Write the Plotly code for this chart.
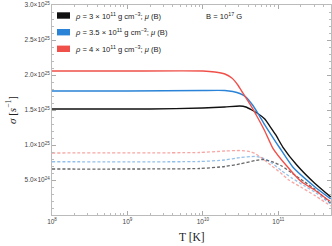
import numpy as np
import plotly.graph_objects as go

# ---- data (T in log10 K, sigma in units of 1e25 s^-1) ----
logT_r = [8.0, 9.0, 10.0, 10.159, 10.291, 10.384, 10.464, 10.53, 10.623, 10.715, 10.821, 10.927, 11.113, 11.311, 11.483, 11.695]
sig_r  = [2.057, 2.057, 2.057, 2.043, 2.014, 1.957, 1.857, 1.743, 1.586, 1.414, 1.2, 0.957, 0.70, 0.471, 0.357, 0.186]

logT_b = [8.0, 9.0, 10.0, 10.291, 10.397, 10.49, 10.57, 10.649, 10.728, 10.821, 10.914, 11.02, 11.192, 11.483, 11.695]
sig_b  = [1.771, 1.771, 1.779, 1.779, 1.764, 1.736, 1.686, 1.586, 1.457, 1.286, 1.129, 0.957, 0.686, 0.404, 0.229]

logT_k = [8.0, 9.298, 10.0, 10.291, 10.49, 10.57, 10.649, 10.728, 10.821, 10.887, 10.967, 11.06, 11.245, 11.483, 11.695]
sig_k  = [1.514, 1.514, 1.529, 1.543, 1.557, 1.543, 1.50, 1.45, 1.371, 1.271, 1.143, 0.971, 0.714, 0.453, 0.257]

logT_rd = [8.0, 9.96, 10.291, 10.49, 10.623, 10.689, 10.781, 10.9, 11.033, 11.139, 11.298, 11.483, 11.695]
sig_rd  = [0.886, 0.893, 0.914, 0.921, 0.907, 0.881, 0.814, 0.714, 0.60, 0.50, 0.40, 0.28, 0.129]

logT_bd = [8.0, 9.96, 10.291, 10.49, 10.689, 10.795, 10.914, 11.046, 11.179, 11.351, 11.483, 11.695]
sig_bd  = [0.761, 0.764, 0.786, 0.821, 0.836, 0.814, 0.743, 0.629, 0.529, 0.414, 0.329, 0.157]

logT_kd = [8.0, 9.96, 10.291, 10.49, 10.689, 10.795, 10.914, 11.046, 11.179, 11.351, 11.483, 11.695]
sig_kd  = [0.657, 0.664, 0.693, 0.729, 0.776, 0.793, 0.764, 0.70, 0.60, 0.471, 0.371, 0.171]

ytick_vals = [0.5, 1.0, 1.5, 2.0, 2.5, 3.0]
ytick_text = ["5.0×10<sup>24</sup>", "1.0×10<sup>25</sup>", "1.5×10<sup>25</sup>",
              "2.0×10<sup>25</sup>", "2.5×10<sup>25</sup>", "3.0×10<sup>25</sup>"]
xtick_exp = [8, 9, 10, 11]

legend_labels = ["<i>ρ</i> = 3 × 10<sup>11</sup> g cm<sup>−3</sup>; <i>μ</i> (B)",
                 "<i>ρ</i> = 3.5 × 10<sup>11</sup> g cm<sup>−3</sup>; <i>μ</i> (B)",
                 "<i>ρ</i> = 4 × 10<sup>11</sup> g cm<sup>−3</sup>; <i>μ</i> (B)"]

BLACK = "#111111"
BLUE = "#2a83d6"
RED = "#f0504a"

def T(lst):
    return [10 ** v for v in lst]

def S(lst):
    return [v * 1e25 for v in lst]

fig = go.Figure()
for lx, ly, col, op in [(logT_kd, sig_kd, "#333333", 0.75), (logT_bd, sig_bd, BLUE, 0.5), (logT_rd, sig_rd, RED, 0.5)]:
    fig.add_trace(go.Scatter(x=T(lx), y=S(ly), mode="lines", opacity=op,
                             line=dict(color=col, width=1.3, dash="3px,2px", shape="spline", smoothing=0.5),
                             showlegend=False, hoverinfo="skip"))
for lx, ly, col in [(logT_k, sig_k, BLACK), (logT_b, sig_b, BLUE), (logT_r, sig_r, RED)]:
    fig.add_trace(go.Scatter(x=T(lx), y=S(ly), mode="lines",
                             line=dict(color=col, width=1.4, shape="spline", smoothing=0.5),
                             showlegend=False, hoverinfo="skip"))

L, R, TOP, BOT = 52, 1, 5, 31
W, H = 332, 246
pw, ph = W - L - R, H - TOP - BOT

def px(x):
    return (x - L) / pw

def py(y):
    return (H - BOT - y) / ph

shapes = []
annotations = []
rows_y = [15.5, 32.2, 48.8]
for yy, col, lab in zip(rows_y, [BLACK, BLUE, RED], legend_labels):
    shapes.append(dict(type="rect", xref="paper", yref="paper",
                       x0=px(57), x1=px(70), y0=py(yy - 3.2), y1=py(yy + 3.2),
                       fillcolor=col, line=dict(width=0)))
    annotations.append(dict(xref="paper", yref="paper", x=px(72.5), y=py(yy), text=lab,
                            showarrow=False, xanchor="left", yanchor="middle",
                            font=dict(family="Liberation Sans", size=7.6, color="#222")))
annotations.append(dict(xref="paper", yref="paper", x=px(224), y=py(15.5),
                        text="B = 10<sup>17</sup> G", showarrow=False,
                        xanchor="center", yanchor="middle",
                        font=dict(family="Liberation Sans", size=7.6, color="#222")))
annotations.append(dict(xref="paper", yref="paper", x=px(11), y=py(110),
                        text="<i>σ</i> [<i>s</i><sup>−1</sup>]", textangle=-90, showarrow=False,
                        xanchor="center", yanchor="middle",
                        font=dict(family="Liberation Serif", size=11, color="#222")))
annotations.append(dict(xref="paper", yref="paper", x=px(191.5), y=py(237),
                        text="T [K]", showarrow=False, xanchor="center", yanchor="middle",
                        font=dict(family="Liberation Serif", size=11.5, color="#222")))

minor_x = [m * 10 ** e for e in [8, 9, 10, 11] for m in range(2, 10) if m * 10 ** e <= 5.1e11]

fig.update_layout(
    width=W, height=H, margin=dict(l=L, r=R, t=TOP, b=BOT, autoexpand=False),
    paper_bgcolor="white", plot_bgcolor="white",
    shapes=shapes, annotations=annotations, showlegend=False,
    xaxis=dict(type="log", range=[8, np.log10(5e11)], automargin=False,
               tickvals=[10 ** e for e in xtick_exp],
               ticktext=["10<sup>%d</sup>" % e for e in xtick_exp],
               ticks="inside", ticklen=4, tickwidth=0.8, tickcolor="#aaa",
               showgrid=False, zeroline=False, showline=True, linecolor="#bbb", linewidth=1,
               mirror="allticks",
               minor=dict(tickvals=minor_x, ticks="inside", ticklen=2, tickcolor="#bbb", tickwidth=0.6),
               tickfont=dict(family="Liberation Sans", size=6.5, color="#444")),
    yaxis=dict(range=[0, 3e25], automargin=False,
               tickvals=[v * 1e25 for v in ytick_vals], ticktext=ytick_text,
               ticks="inside", ticklen=4, tickwidth=0.8, tickcolor="#aaa",
               showgrid=False, zeroline=False, showline=True, linecolor="#bbb", linewidth=1,
               mirror="allticks",
               minor=dict(dtick=0.1e25, tick0=0, ticks="inside", ticklen=2, tickcolor="#bbb", tickwidth=0.6),
               tickfont=dict(family="Liberation Sans", size=6.5, color="#444")),
)

fig.write_html("out.html", config={"displayModeBar": False},
               post_script="document.body.style.margin='0';document.body.style.padding='0';")
